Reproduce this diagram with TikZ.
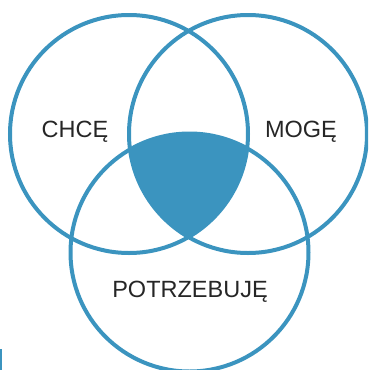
\documentclass[tikz,border=0pt]{standalone}
\usepackage{fontspec}
\setmainfont{Liberation Sans}
\definecolor{vennblue}{RGB}{59,148,191}
\begin{document}
\begin{tikzpicture}[x=1pt,y=-1pt,
  ring/.style={draw=vennblue,line width=4pt},
  lbl/.style={font=\fontsize{23.5}{26}\selectfont,text=black!85,anchor=base,inner sep=0pt}]
\useasboundingbox (0,0) rectangle (368,370);
\clip (0,0) rectangle (368,370);
\coordinate (cl) at (129,134);
\coordinate (cr) at (248,134);
\coordinate (cb) at (189.5,252.5);
\begin{scope}
  \clip (cl) circle[radius=119];
  \clip (cr) circle[radius=119];
  \fill[vennblue] (cb) circle[radius=119];
\end{scope}
\draw[ring] (cl) circle[radius=119];
\draw[ring] (cr) circle[radius=119];
\draw[ring] (cb) circle[radius=119];
\node[lbl] (chce) at (75,137) {CHCĘ};
\node[lbl] (moge) at (301,137) {MOGĘ};
\node[lbl] (potrz) at (190,297) {POTRZEBUJĘ};
\fill[vennblue] (0,349) rectangle (1.5,370);
\end{tikzpicture}
\end{document}
